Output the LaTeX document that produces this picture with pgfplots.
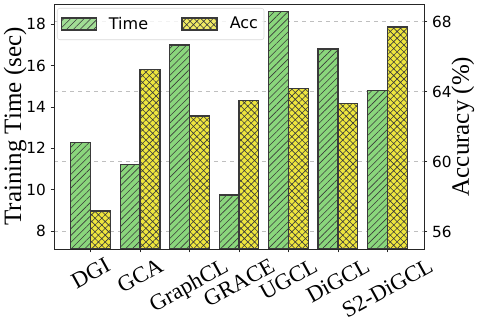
\documentclass[border=0pt]{standalone}
\usepackage{fontspec}
\setmainfont{Liberation Serif}
\newfontfamily\djv{DejaVu Sans}
\usepackage{pgfplots}
\pgfplotsset{compat=1.18}
\usetikzlibrary{patterns.meta}
\definecolor{tgreen}{HTML}{8AD67C}
\definecolor{tyellow}{HTML}{EEE63E}
\definecolor{edge}{HTML}{3A3A3A}

\tikzset{
  timebar/.style={fill=tgreen, draw=edge, line width=1pt,
    postaction={pattern={Lines[angle=45,distance=3.6pt,line width=0.45pt]}, pattern color=edge}},
  accbar/.style={fill=tyellow, draw=edge, line width=1pt,
    postaction={pattern={Hatch[angle=45,distance=3.6pt,line width=0.45pt]}, pattern color=edge}},
}

\pgfplotsset{
  twin/.style={width=277.5pt, height=183.75pt, scale only axis,
    xmin=-0.74, xmax=6.74,
    tick align=outside, major tick length=2.6pt,
    tick style={black!85, line width=0.6pt},
    axis line style={black!85, line width=0.7pt},
    tick label style={font=\djv\fontsize{11.5}{13}\selectfont},
    /pgf/number format/assume math mode=true,
    label style={font=\fontsize{18.75}{22}\selectfont},
    ybar, bar width=0.4,
    legend image code/.code={\draw[sharp corners,#1] (0pt,-4.5pt) rectangle (26.25pt,4.5pt);},
  },
}

\begin{document}
\begin{tikzpicture}
% right axis: accuracy, grid
\begin{axis}[twin,
  ymin=55, ymax=69, ytick={56,60,64,68},
  axis y line*=right, hide x axis,
  ymajorgrids, grid style={dashed, black!25, line width=0.4pt},
  ylabel={Accuracy (\%)},
  ylabel style={at={(axis description cs:1.105,0.5)}, anchor=center},
  bar shift=0.2]
\addplot[accbar] coordinates {(0,57.18)(1,65.25)(2,62.6)(3,63.47)(4,64.16)(5,63.32)(6,67.69)};
\end{axis}
% left axis: training time
\begin{axis}[twin, name=ax,
  ymin=7.13, ymax=18.98, ytick={8,10,...,18},
  ytick pos=left, xtick pos=left,
  xtick={0,...,6},
  xticklabels={\rotatebox{29}{DGI},\rotatebox{29}{GCA},\rotatebox{29}{GraphCL},\rotatebox{29}{GRACE},\rotatebox{29}{UGCL},\rotatebox{29}{DiGCL},\rotatebox{29}{S2-DiGCL}},
  xticklabel style={font=\fontsize{17}{19}\selectfont, anchor=north, yshift=0pt},
  ylabel={Training Time (sec)},
  ylabel style={at={(axis description cs:-0.105,0.5)}, anchor=center},
  bar shift=-0.2,
  legend columns=2,
  legend style={at={(0,1)}, anchor=north west, xshift=2.25pt, yshift=-3pt,
    draw=black!15, rounded corners=2pt, fill=white, fill opacity=0.8, text opacity=1,
    font=\djv\fontsize{12}{14}\selectfont, inner xsep=2.5pt, inner ysep=4.5pt,
    /tikz/every odd column/.append style={column sep=7pt},
    /tikz/every even column/.append style={column sep=23pt}},
  legend cell align=left]
\addplot[timebar] coordinates {(0,12.27)(1,11.23)(2,17.0)(3,9.74)(4,18.61)(5,16.8)(6,14.8)};
\addlegendentry{Time}
\addlegendimage{accbar}
\addlegendentry{Acc}
\end{axis}
\pgfresetboundingbox
\path ([shift={(-40.5pt,-53.25pt)}]ax.south west) rectangle ([shift={(41.25pt,3pt)}]ax.north east);
\end{tikzpicture}
\end{document}
